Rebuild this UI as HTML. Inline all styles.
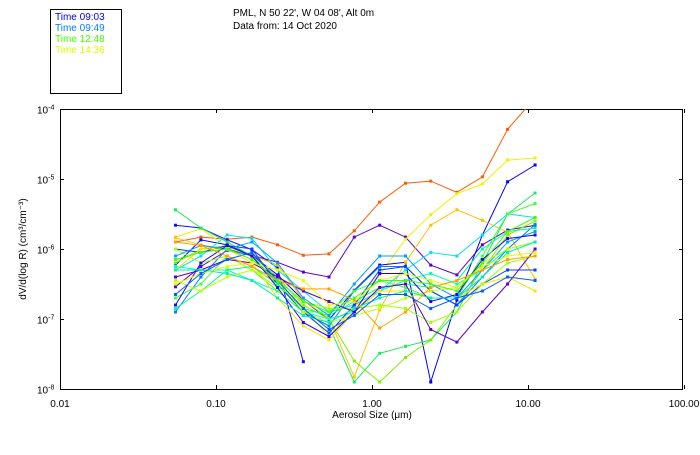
<!DOCTYPE html>
<html><head><meta charset="utf-8"><style>
body{margin:0;background:#fff;width:700px;height:450px;overflow:hidden;font-family:"Liberation Sans","DejaVu Sans",sans-serif}
</style></head><body>
<svg id="chart" width="700" height="450" xmlns="http://www.w3.org/2000/svg" font-family="Liberation Sans, DejaVu Sans, sans-serif">
<rect width="700" height="450" fill="#fff"/>
<g>
<rect x="50.5" y="9.5" width="71" height="84" fill="none" stroke="#000"/>
<text x="55" y="20" font-size="10" fill="#0000ff">Time 09:03</text>
<text x="55" y="31" font-size="10" fill="#0080ff">Time 09:49</text>
<text x="55" y="42" font-size="10" fill="#40ff00">Time 12:48</text>
<text x="55" y="53" font-size="10" fill="#d8ff00">Time 14:36</text>
</g>
<text x="233" y="16" font-size="10">PML, N 50 22', W 04 08', Alt 0m</text>
<text x="233" y="29" font-size="10">Data from: 14 Oct 2020</text>
<text transform="translate(26,249) rotate(-90)" text-anchor="middle" font-size="10">dV/d(log R) (cm³/cm⁻³)</text>
<text x="372" y="418" text-anchor="middle" font-size="10">Aerosol Size (μm)</text>
<g id="axes"></g>
<svg id="plot" x="60" y="109" width="623" height="281" overflow="hidden"><g id="series"></g></svg>
</svg>
<script>
const xTickVals=[0.01,0.1,1,10,100];
const xTickLabels=["0.01","0.10","1.00","10.00","100.00"];
const yTickExps=[-4,-5,-6,-7,-8];
const sizes=[0.055,0.080,0.118,0.170,0.248,0.363,0.53,0.77,1.12,1.64,2.38,3.5,5.1,7.4,11.1];
const colors=["#ff5a00","#5a00d0","#f0f000","#0000ff","#1010ff","#ffc000","#20e860","#80f000","#00e0ff","#0080ff","#00ffc0","#40ff40","#0040ff","#ffe000","#a0ff00","#00ff80","#6000c0","#00a0ff","#c0ff00","#2000ff","#00f0b0","#e0ff00","#ffa000","#0060ff","#40ff00"];
const s1=[-5.90,-5.83,-5.86,-5.83,-5.94,-6.09,-6.07,-5.74,-5.33,-5.06,-5.03,-5.19,-4.97,-4.29,-3.84];
const s2=[-6.54,-6.25,-6.02,-6.09,-6.19,-6.33,-6.40,-5.83,-5.66,-5.83,-6.23,-6.37,-5.94,-5.73,-5.66];
const s3=[-5.83,-5.71,-5.97,-6.11,-6.47,-6.83,-7.26,-6.83,-6.37,-5.86,-5.51,-5.21,-5.07,-4.73,-4.70];
const s4=[-6.23,-5.87,-5.94,-6.09,-6.37,-6.73,-7.01,-6.59,-6.23,-6.19,-7.90,-6.73,-5.80,-5.04,-4.80];
const s5=[-5.66,-5.70,-5.87,-6.01,-6.27,-7.61,null,null,null,null,null,null,null,null,null];
const s6=[-5.84,-5.94,-6.01,-6.09,-6.23,-6.73,-6.99,-7.83,-6.87,-6.19,-5.66,-5.44,-5.59,-5.76,-6.43];
const s7=[-5.44,-5.70,-5.90,-6.10,-6.50,-6.90,-7.10,-7.90,-7.49,-7.39,-7.30,-6.90,-6.20,-5.50,-5.20];
const s8=[-6.20,-6.00,-5.95,-6.10,-6.40,-6.80,-7.00,-7.60,-7.90,-7.55,-7.30,-6.80,-6.30,-5.80,-5.60];
const s9=[-6.3,-6.1,-5.8,-5.85,-6.3,-6.6,-6.9,-6.8,-6.6,-6.3,-6.05,-6.1,-5.8,-5.5,-5.55];
const s10=[-6.9,-6.4,-6.0,-6.1,-6.5,-6.9,-7.1,-6.6,-6.25,-6.25,-6.6,-6.8,-6.4,-6.0,-5.65];
const s11=[-6.25,-6.3,-6.3,-6.45,-6.6,-6.9,-7.0,-6.9,-6.6,-6.45,-6.35,-6.5,-6.3,-6.0,-5.9];
const s12=[-6.7,-6.5,-6.1,-6.3,-6.6,-6.9,-6.9,-6.6,-6.45,-6.55,-6.7,-6.7,-6.1,-5.5,-5.35];
const s13=[-6.0,-6.05,-5.95,-6.0,-6.5,-6.9,-7.2,-6.8,-6.3,-6.25,-6.6,-6.8,-6.5,-6.3,-6.3];
const s14=[-6.3,-6.0,-6.0,-6.2,-6.7,-7.1,-7.3,-6.9,-6.6,-6.6,-6.7,-6.7,-6.5,-6.4,-6.6];
const s15=[-6.0,-6.2,-6.1,-6.3,-6.55,-6.75,-6.85,-6.85,-6.8,-6.85,-7.05,-6.9,-6.5,-6.2,-6.1];
const s16=[-6.85,-6.6,-6.3,-6.25,-6.5,-6.85,-6.95,-6.75,-6.55,-6.5,-6.55,-6.45,-6.0,-5.75,-5.7];
const s17=[-6.4,-6.3,-6.15,-6.2,-6.4,-6.6,-6.75,-6.9,-6.55,-6.5,-7.15,-7.33,-6.9,-6.5,-6.0];
const s18=[-6.1,-5.95,-6.0,-5.9,-6.2,-6.7,-6.95,-6.5,-6.1,-6.1,-6.5,-6.7,-6.3,-5.9,-5.75];
const s19=[-6.45,-6.6,-6.4,-6.3,-6.45,-6.9,-7.05,-6.95,-6.85,-6.7,-6.6,-6.55,-6.2,-6.0,-5.9];
const s20=[-6.8,-6.2,-5.95,-6.1,-6.55,-7.05,-7.25,-6.9,-6.35,-6.35,-6.75,-6.65,-6.15,-5.85,-5.8];
const s21=[-6.3,-6.3,-6.35,-6.45,-6.7,-6.95,-7.05,-6.85,-6.7,-6.6,-6.7,-6.7,-6.4,-6.05,-5.9];
const s22=[-6.5,-6.35,-6.25,-6.2,-6.3,-6.45,-6.8,-6.75,-6.45,-6.35,-6.45,-6.55,-6.25,-6.1,-6.05];
const s23=[-5.9,-5.95,-6.1,-6.25,-6.45,-6.57,-6.57,-6.73,-7.13,-6.9,-6.55,-6.45,-6.3,-6.15,-6.1];
const s24=[-6.65,-6.35,-6.15,-6.05,-6.45,-6.85,-7.15,-6.95,-6.65,-6.65,-6.85,-6.7,-6.6,-6.4,-6.45];
const s25=[-6.15,-6.05,-6.0,-6.15,-6.45,-6.75,-6.9,-6.7,-6.45,-6.45,-6.5,-6.6,-6.2,-5.75,-5.55];
const seriesLog=[s1,s2,s3,s4,s5,s6,s7,s8,s9,s10,s11,s12,s13,s14,s15,s16,s17,s18,s19,s20,s21,s22,s23,s24,s25];

const NS="http://www.w3.org/2000/svg";
function xPix(v){return 60+156*(Math.log10(v)+2);}
function yPix(e){return 109+70*(-4-e);}
const axes=document.getElementById('axes');
const frame=document.createElementNS(NS,'rect');
frame.setAttribute('x',60.5);frame.setAttribute('y',109.5);frame.setAttribute('width',622);frame.setAttribute('height',280);
frame.setAttribute('fill','none');frame.setAttribute('stroke','#000');


axes.appendChild(frame);
xTickVals.forEach((v,i)=>{
  const x=Math.round(xPix(v))+0.5;
  [[389,385],[109,113]].forEach(p=>{
    const l=document.createElementNS(NS,'line');
    l.setAttribute('x1',x);l.setAttribute('x2',x);l.setAttribute('y1',p[0]);l.setAttribute('y2',p[1]);l.setAttribute('stroke','#000');
    
    
    axes.appendChild(l);
  });
  const t=document.createElementNS(NS,'text');
  t.setAttribute('x',xPix(v));t.setAttribute('y',407);t.setAttribute('text-anchor','middle');t.setAttribute('font-size','10');
  t.textContent=xTickLabels[i];
  
  
  axes.appendChild(t);
});
yTickExps.forEach(e=>{
  const y=Math.round(yPix(e))+0.5;
  [[60,64],[683,679]].forEach(p=>{
    const l=document.createElementNS(NS,'line');
    l.setAttribute('x1',p[0]);l.setAttribute('x2',p[1]);l.setAttribute('y1',y);l.setAttribute('y2',y);l.setAttribute('stroke','#000');
    
    
    axes.appendChild(l);
  });
  const t=document.createElementNS(NS,'text');
  t.setAttribute('x',37);t.setAttribute('y',y+4);t.setAttribute('font-size','10');
  t.innerHTML='10<tspan dy="-4" font-size="7">'+e+'</tspan>';
  
  
  axes.appendChild(t);
});
const g=document.getElementById('series');
seriesLog.forEach((s,k)=>{
  const pts=[];
  s.forEach((e,i)=>{if(e!==null)pts.push([xPix(sizes[i])-60,yPix(e)-109]);});
  const pl=document.createElementNS(NS,'polyline');
  pl.setAttribute('points',pts.map(p=>p[0].toFixed(1)+','+p[1].toFixed(1)).join(' '));
  pl.setAttribute('fill','none');pl.setAttribute('stroke',colors[k]);pl.setAttribute('stroke-width','1');
  
  
  g.appendChild(pl);
  pts.forEach(p=>{
    const r=document.createElementNS(NS,'rect');
    r.setAttribute('x',p[0]-1.5);r.setAttribute('y',p[1]-1.5);r.setAttribute('width',3);r.setAttribute('height',3);r.setAttribute('fill',colors[k]);
    
    
    g.appendChild(r);
  });
});
</script>
</body></html>
